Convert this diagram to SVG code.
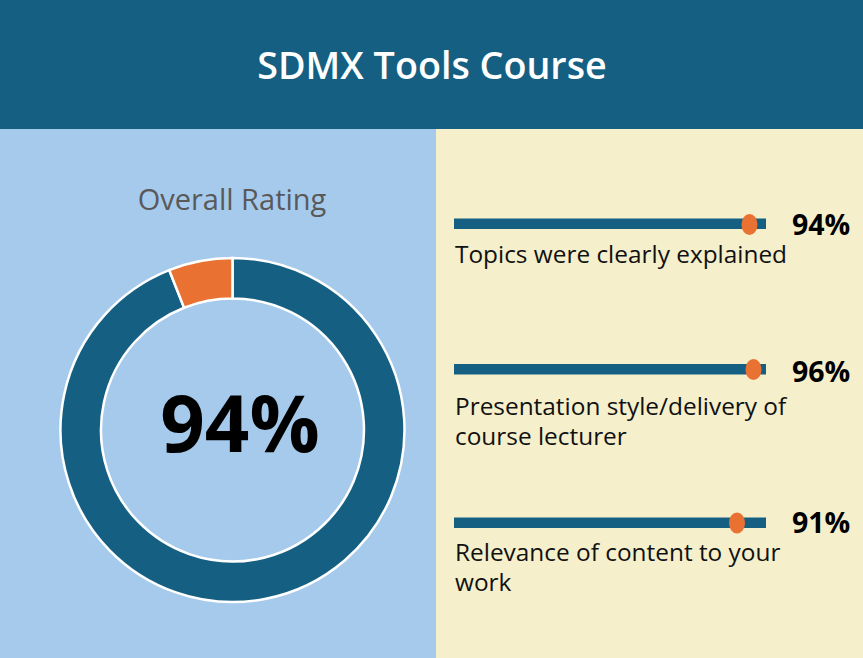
<svg xmlns="http://www.w3.org/2000/svg" width="863" height="658" viewBox="0 0 863 658">
  <defs>
    <style>
      .title { font-family: "Open Sans", "Noto Sans", sans-serif; font-weight: 600; font-size: 37.7px; fill: #ffffff; }
      .subtitle { font-family: "Open Sans", "Noto Sans", sans-serif; font-size: 29px; fill: #595959; }
      .big { font-family: "Open Sans", "Noto Sans", sans-serif; font-weight: 700; font-size: 78px; fill: #000000; }
      .pct { font-family: "Open Sans", "Noto Sans", sans-serif; font-weight: 700; font-size: 28.5px; fill: #000000; }
      .lbl { font-family: "Open Sans", "Noto Sans", sans-serif; font-size: 24.4px; fill: #111111; }
      .bar { fill: #156082; }
      .dot { fill: #E97132; }
      .seg { stroke: #ffffff; stroke-width: 2.5; stroke-linejoin: miter; }
    </style>
  </defs>

  <g id="background">
    <rect x="0" y="0" width="863" height="129" fill="#156082"/>
    <rect x="0" y="129" width="436" height="529" fill="#A6CAEC"/>
    <rect x="436" y="129" width="427" height="529" fill="#F5EFCC"/>
  </g>

  <g id="title">
    <text class="title" x="432" y="79" text-anchor="middle">SDMX Tools Course</text>
  </g>

  <g id="overall-rating">
    <text class="subtitle" x="232" y="210" text-anchor="middle">Overall Rating</text>
    <path class="seg" fill="#156082" d="M 232.5 258 A 172 172 0 1 1 169.19 270.07 L 184.09 307.73 A 131.5 131.5 0 1 0 232.5 298.5 Z"/>
    <path class="seg" fill="#E97132" d="M 169.19 270.07 A 172 172 0 0 1 232.5 258 L 232.5 298.5 A 131.5 131.5 0 0 0 184.09 307.73 Z"/>
    <text class="big" x="240" y="452" text-anchor="middle">94%</text>
  </g>

  <g id="item-topics">
    <rect class="bar" x="454" y="218.5" width="312" height="10.5"/>
    <ellipse class="dot" cx="749.5" cy="224.5" rx="8" ry="10.5"/>
    <text class="pct" x="792" y="235">94%</text>
    <text class="lbl" x="455" y="263">Topics were clearly explained</text>
  </g>

  <g id="item-presentation">
    <rect class="bar" x="454" y="364" width="312" height="10.5"/>
    <ellipse class="dot" cx="753.5" cy="369.5" rx="8" ry="10.5"/>
    <text class="pct" x="792" y="382">96%</text>
    <text class="lbl" x="455" y="415">Presentation style/delivery of</text>
    <text class="lbl" x="455" y="445">course lecturer</text>
  </g>

  <g id="item-relevance">
    <rect class="bar" x="454" y="517.5" width="312" height="10.5"/>
    <ellipse class="dot" cx="737" cy="523" rx="8" ry="10.5"/>
    <text class="pct" x="792" y="533">91%</text>
    <text class="lbl" x="455" y="561">Relevance of content to your</text>
    <text class="lbl" x="455" y="591">work</text>
  </g>

  <g id="connectors"></g>
</svg>
